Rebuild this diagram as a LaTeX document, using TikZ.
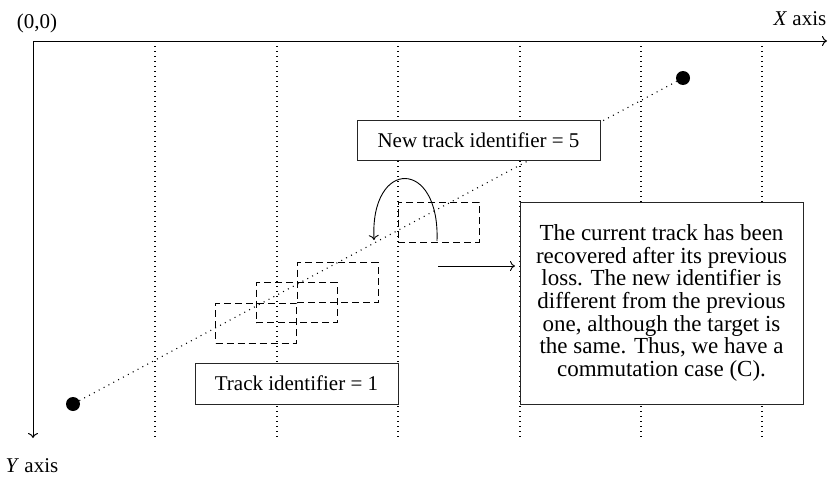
\documentclass[tikz,border=0pt]{standalone}
\usepackage{fontspec}
\setmainfont{Liberation Serif}
\usetikzlibrary{arrows.meta}
\begin{document}
\begin{tikzpicture}[x=1pt,y=-1pt,
  every node/.style={font=\fontsize{21}{22.7}\selectfont},
  bigtext/.style={font=\fontsize{23}{22.7}\selectfont},
  axisline/.style={line width=1pt,-{To[length=5pt,width=10pt]}},
  gridline/.style={line width=1.1pt,dash pattern=on 1pt off 4pt},
  trackline/.style={line width=1.1pt,dash pattern=on 1pt off 4.5pt},
  dot/.style={circle,fill=black,minimum size=14pt,inner sep=0pt},
  label box/.style={draw=black!85,line width=1pt,fill=white,inner sep=0pt},
  window/.style={draw,dash pattern=on 7pt off 4pt,line width=1pt,minimum width=81pt,minimum height=40pt,inner sep=0pt},
  arr/.style={line width=0.9pt,-{To[length=5pt,width=10pt]}}]
\useasboundingbox (0,0) rectangle (831,479);
% axes
\coordinate (O) at (33,41);
\coordinate (xe) at (827,41);
\coordinate (ye) at (33,438);
% grid
\foreach \x [count=\i] in {155,277,398,520,641,762}{
  \coordinate (g\i t) at (\x,41);
  \coordinate (g\i b) at (\x,440);
  \draw[gridline] (g\i t) -- (g\i b);
}
\draw[axisline] (O) -- (xe);
\draw[axisline] (O) -- (ye);
\node (origin) at (37,23) {(0,0)};
\node (xlab) at (800,19) {\textit{X} axis};
\node (ylab) at (32,466) {\textit{Y} axis};
% track
\node[dot] (p1) at (73,404) {};
\node[dot] (p2) at (683,78) {};
\draw[trackline] (p1) -- (p2);
% windows
\node[window] (w1) at (256,323) {};
\node[window] (w2) at (296.5,302.5) {};
\node[window] (w3) at (337.5,282.5) {};
\node[window] (w4) at (438.5,222) {};
% labels
\node[label box,minimum width=243pt,minimum height=40pt] (newid) at (478.5,140) {New track identifier = 5};
\node[label box,minimum width=203pt,minimum height=41pt] (oldid) at (296.5,383.5) {Track identifier = 1};
\node[label box,bigtext,minimum width=283pt,minimum height=202pt,align=center] (expl) at (661.5,303)
  {The current track has been\\recovered after its previous\\loss. The new identifier is\\different from the previous\\one, although the target is\\the same. Thus, we have a\\commutation case (C).};
% curved arrow
\coordinate (cs) at (437,241);
\coordinate (ce) at (374,240);
\draw[arr] (cs) .. controls (440,158) and (370,158) .. (ce);
% horizontal arrow
\coordinate (hs) at (438,266);
\coordinate (he) at (515,266);
\draw[arr] (hs) -- (he);
\end{tikzpicture}
\end{document}
